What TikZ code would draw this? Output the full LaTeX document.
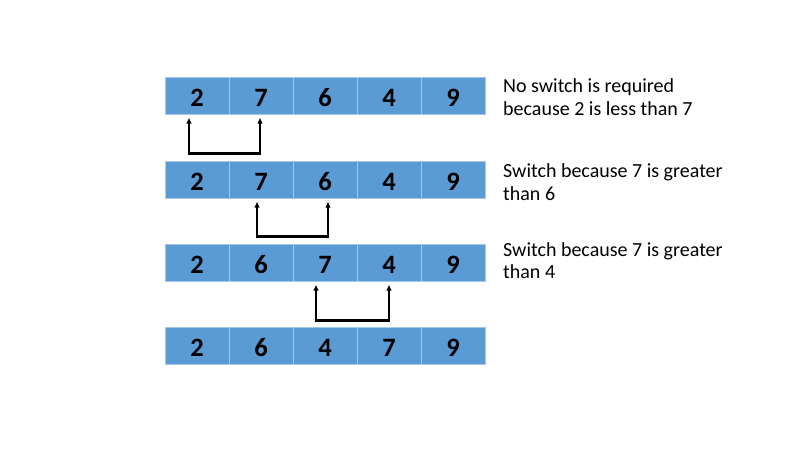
\documentclass[tikz,border=0pt]{standalone}
\usepackage{fontspec}
\setmainfont{Carlito}
\usetikzlibrary{arrows.meta}
\definecolor{cellblue}{HTML}{5B9BD5}
\definecolor{celledge}{HTML}{A7C7E7}

\begin{document}
\begin{tikzpicture}[x=1pt,y=-1pt,
  cell/.style={draw=celledge,line width=1pt,fill=cellblue,minimum width=64pt,minimum height=37pt,inner sep=0pt,
    font=\fontsize{26.5}{26.5}\selectfont\bfseries,text height=21pt,text depth=0pt},
  note/.style={anchor=north west,inner sep=0pt,align=left,font=\fontsize{20}{22.5}\selectfont},
  swap/.style={line width=2.2pt,{Latex[length=6pt,width=5.5pt]}-{Latex[length=6pt,width=5.5pt]},
    shorten <=3pt,shorten >=3pt}]
  \useasboundingbox (0,0) rectangle (800,450);

  % the four passes
  \foreach \row/\y/\list in {1/95.5/{2,7,6,4,9},2/179.5/{2,7,6,4,9},3/262.5/{2,6,7,4,9},4/345.5/{2,6,4,7,9}}{
    \foreach \v [count=\c] in \list {
      \node[cell] (r\row-\c) at (133+64*\c,\y) {\v};}}

  % compared pairs
  \draw[swap] ([xshift=-8pt]r1-1.south) -- ++(0,39) -| ([xshift=-1pt]r1-2.south);
  \draw[swap] ([xshift=-4pt]r2-2.south) -- ++(0,38) -| ([xshift=3pt]r2-3.south);
  \draw[swap] ([xshift=-9pt]r3-3.south) -- ++(0,39) -| (r3-4.south);

  \node[note] (n1) at (503,78.5) {No switch is required\\because 2 is less than 7};
  \node[note] (n2) at (503,163.5) {Switch because 7 is greater\\than 6};
  \node[note] (n3) at (503,242) {Switch because 7 is greater\\than 4};
\end{tikzpicture}
\end{document}
